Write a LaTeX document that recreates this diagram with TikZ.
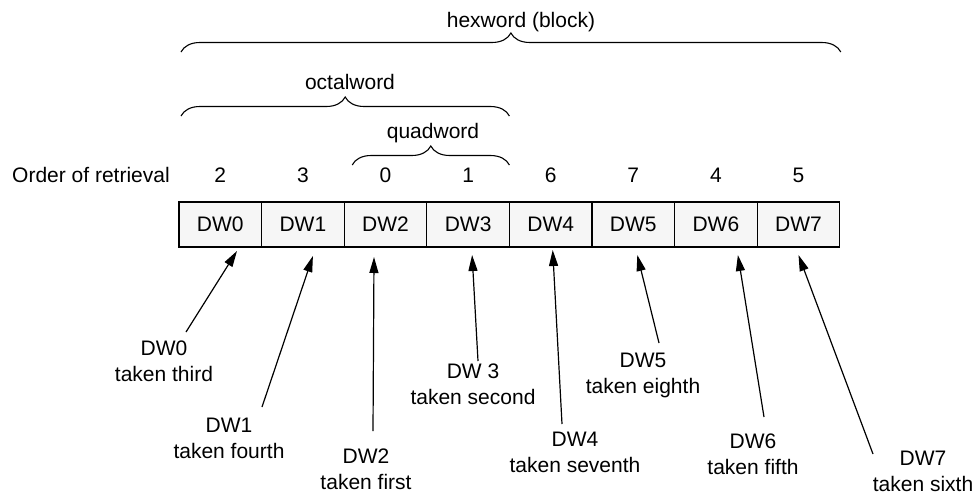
\documentclass[tikz,border=0pt]{standalone}
\usepackage{fontspec}
\setmainfont{Liberation Sans}
\usetikzlibrary{arrows.meta,decorations.pathreplacing}

\begin{document}
\begin{tikzpicture}[x=1pt,y=1pt,
  font=\fontsize{21}{26}\selectfont,
  cell/.style={draw,line width=1.2pt,fill=gray!7,minimum width=82.6pt,minimum height=45pt,inner sep=0pt,outer sep=0pt},
  lbl/.style={align=center,inner sep=0pt},
  arr/.style={line width=1.2pt,-{Triangle[length=16pt,width=9pt]}},
  brc/.style={decorate,decoration={brace,amplitude=19pt},line width=1.1pt}]
  \useasboundingbox (0,0) rectangle (980,-496);
  \def\cellW{82.6}
  % the eight doublewords of the block
  \foreach \i in {0,...,7}
    \node[cell] (c\i) at ({220.3+\cellW*\i},-224.5) {DW\i};
  % order in which they are fetched
  \node (order) at (91,-175) {Order of retrieval};
  \foreach \i/\n in {0/2,1/3,2/0,3/1,4/6,5/7,6/4,7/5}
    \node (o\i) at ([yshift=27pt]c\i.north) {\n};
  % braces
  \draw[brc] ([xshift=8pt,yshift=37pt]c2.north west) -- ([yshift=37pt]c3.north east);
  \node (quad) at (433,-133) {quadword};
  \draw[brc] ([xshift=2pt,yshift=86pt]c0.north west) -- ([yshift=86pt]c3.north east);
  \node (octal) at (350,-82) {octalword};
  \draw[brc] ([xshift=2pt,yshift=150pt]c0.north west) -- ([xshift=1pt,yshift=150pt]c7.north east);
  \node (hex) at (521,-22) {hexword (block)};
  % labels below
  \node[lbl] (l0) at (164,-361) {DW0\\taken third};
  \node[lbl] (l1) at (229,-438) {DW1\\taken fourth};
  \node[lbl] (l2) at (366,-469.5) {DW2\\taken first};
  \node[lbl] (l3) at (473,-384) {DW 3\\taken second};
  \node[lbl] (l4) at (575,-452) {DW4\\taken seventh};
  \node[lbl] (l5) at (643,-375.5) {DW5\\taken eighth};
  \node[lbl] (l6) at (753,-454) {DW6\\taken fifth};
  \node[lbl] (l7) at (923,-471) {DW7\\taken sixth};
  % arrows from labels up to the cells
  \foreach \i/\tx/\ty/\dx/\dy in {0/186/332/16.7/-4,1/262/407/10/-9,2/373/431/-11.5/-10,
      3/478/361/4/-8,4/562/424/2/-3,5/659/343/4/-8,6/764/417/22/-8,7/873/454/0/-8}
  {
    \coordinate (t\i) at (\tx,-\ty);
    \draw[arr] (t\i) -- ([xshift=\dx pt,yshift=\dy pt]c\i.south);
  }
\end{tikzpicture}
\end{document}
